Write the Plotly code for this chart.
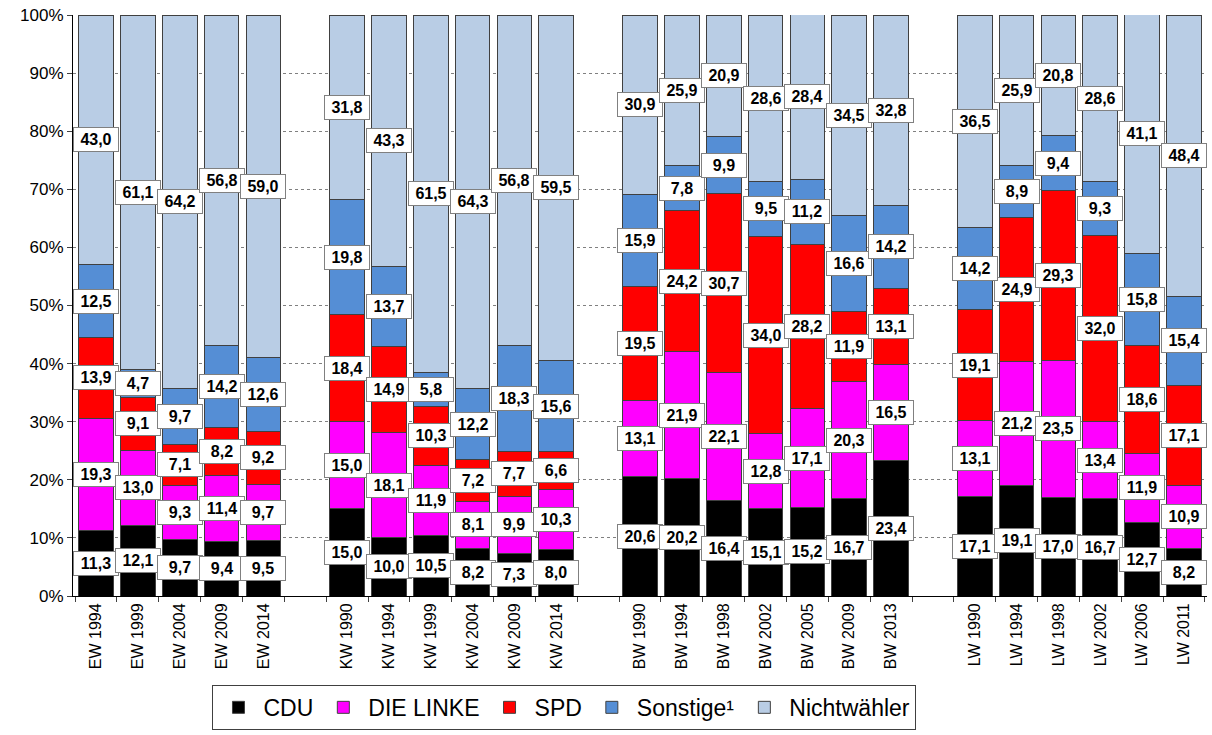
import plotly.graph_objects as go

categories = ["EW 1994", "EW 1999", "EW 2004", "EW 2009", "EW 2014", " ",
              "KW 1990", "KW 1994", "KW 1999", "KW 2004", "KW 2009", "KW 2014", "  ",
              "BW 1990", "BW 1994", "BW 1998", "BW 2002", "BW 2005", "BW 2009", "BW 2013", "   ",
              "LW 1990", "LW 1994", "LW 1998", "LW 2002", "LW 2006", "LW 2011"]

N = None
cdu = [11.3, 12.1, 9.7, 9.4, 9.5, N,
       15.0, 10.0, 10.5, 8.2, 7.3, 8.0, N,
       20.6, 20.2, 16.4, 15.1, 15.2, 16.7, 23.4, N,
       17.1, 19.1, 17.0, 16.7, 12.7, 8.2]
linke = [19.3, 13.0, 9.3, 11.4, 9.7, N,
         15.0, 18.1, 11.9, 8.1, 9.9, 10.3, N,
         13.1, 21.9, 22.1, 12.8, 17.1, 20.3, 16.5, N,
         13.1, 21.2, 23.5, 13.4, 11.9, 10.9]
spd = [13.9, 9.1, 7.1, 8.2, 9.2, N,
       18.4, 14.9, 10.3, 7.2, 7.7, 6.6, N,
       19.5, 24.2, 30.7, 34.0, 28.2, 11.9, 13.1, N,
       19.1, 24.9, 29.3, 32.0, 18.6, 17.1]
sonstige = [12.5, 4.7, 9.7, 14.2, 12.6, N,
            19.8, 13.7, 5.8, 12.2, 18.3, 15.6, N,
            15.9, 7.8, 9.9, 9.5, 11.2, 16.6, 14.2, N,
            14.2, 8.9, 9.4, 9.3, 15.8, 15.4]
nichtwaehler = [43.0, 61.1, 64.2, 56.8, 59.0, N,
                31.8, 43.3, 61.5, 64.3, 56.8, 59.5, N,
                30.9, 25.9, 20.9, 28.6, 28.4, 34.5, 32.8, N,
                36.5, 25.9, 20.8, 28.6, 41.1, 48.4]

series = [("CDU", cdu, "#000000"),
          ("DIE LINKE", linke, "#FF00FF"),
          ("SPD", spd, "#FF0000"),
          ("Sonstige¹", sonstige, "#558ED5"),
          ("Nichtwähler", nichtwaehler, "#B9CDE5")]

FONT = "Arial, Liberation Sans, sans-serif"

fig = go.Figure()
for name, vals, col in series:
    fig.add_trace(go.Bar(
        x=categories, y=vals, name=name,
        marker=dict(color=col, line=dict(color="#404040", width=1)),
        hoverinfo="skip",
    ))

annotations = []
base = [0.0] * len(categories)
for name, vals, col in series:
    for i, v in enumerate(vals):
        if v is None:
            continue
        annotations.append(dict(
            x=categories[i], y=base[i] + v / 2, xref="x", yref="y",
            text="<b>" + f"{v:.1f}".replace(".", ",") + "</b>",
            showarrow=False, bgcolor="white", bordercolor="#808080",
            borderwidth=1, borderpad=1, width=42, height=21,
            font=dict(family=FONT, size=16, color="black"),
        ))
        base[i] += v

fig.update_layout(
    barmode="stack", bargap=0.17,
    width=1212, height=735,
    margin=dict(l=73, r=5, t=15, b=129),
    paper_bgcolor="white", plot_bgcolor="white",
    font=dict(family=FONT, color="black"),
    annotations=annotations,
    legend=dict(orientation="h", x=0.123, xanchor="left", y=-0.153, yanchor="top",
                font=dict(family=FONT, size=23), bordercolor="#404040", borderwidth=1,
                traceorder="normal", itemwidth=40),
)
fig.update_xaxes(type="category", categoryorder="array", categoryarray=categories,
                 tickangle=-90, tickson="boundaries", ticks="outside", ticklen=5,
                 tickcolor="#404040", showline=True, linecolor="black", linewidth=1,
                 tickfont=dict(family=FONT, size=16), showgrid=False)
fig.update_yaxes(range=[0, 100], dtick=10, ticksuffix="%", showline=True,
                 linecolor="black", linewidth=1, ticks="outside", ticklen=5,
                 tickcolor="#404040", showgrid=True, gridcolor="#808080",
                 griddash="3px,3px", gridwidth=1, zeroline=False,
                 tickfont=dict(family=FONT, size=17))

fig.write_html("out.html", config={"displayModeBar": False},
               post_script="document.body.style.margin='0';")
